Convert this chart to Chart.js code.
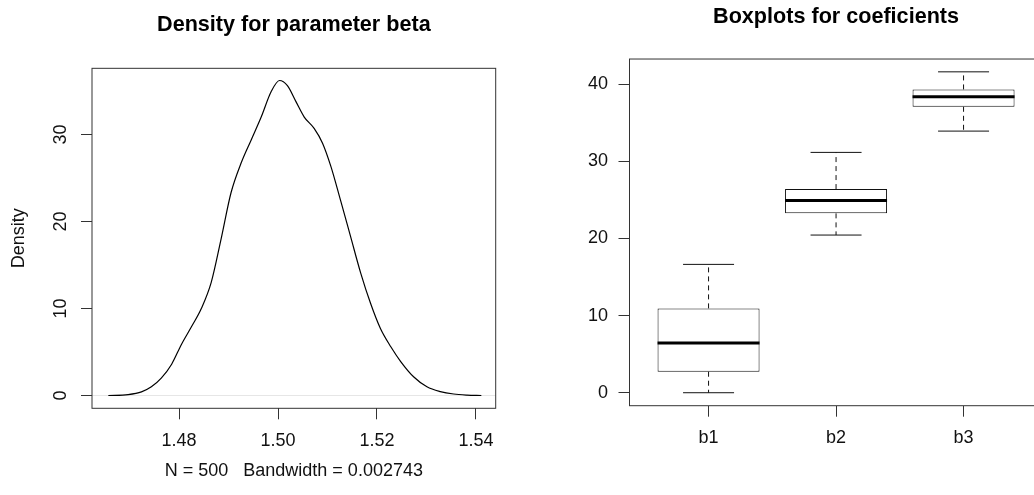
<!DOCTYPE html>
<html>
<head>
<meta charset="utf-8">
<script src="https://cdn.jsdelivr.net/npm/chart.js@4.4.1/dist/chart.umd.min.js"></script>
<style>
  html, body { margin: 0; padding: 0; background: #fff; overflow: hidden; width: 1034px; height: 495px; }
  #left { position: absolute; left: 0; top: 0; }
  #right { position: absolute; left: 517px; top: 0; }
</style>
</head>
<body>
<canvas id="left" width="517" height="495"></canvas>
<canvas id="right" width="540" height="495"></canvas>
<script>
// density of beta
const densityX = [1.4657, 1.4697, 1.4724, 1.4744, 1.4764, 1.4785, 1.4805, 1.4825, 1.4845, 1.4865,
                  1.4885, 1.4905, 1.4926, 1.4946, 1.4966, 1.4986, 1.5003, 1.5019, 1.5036, 1.5053,
                  1.5073, 1.5090, 1.5107, 1.5127, 1.5147, 1.5167, 1.5187, 1.5207, 1.5228, 1.5248,
                  1.5274, 1.5301, 1.5328, 1.5355, 1.5382, 1.5411];
const densityY = [0, 0.11, 0.42, 1.0, 2.0, 3.6, 5.9, 7.9, 10.0, 13.0,
                  18.0, 23.3, 26.8, 29.4, 32.0, 34.9, 36.2, 35.6, 33.8, 32.0,
                  30.7, 29.0, 26.3, 22.3, 18.2, 14.1, 10.6, 7.7, 5.6, 3.9,
                  2.15, 1.0, 0.45, 0.17, 0.05, 0];
const densityTicksX = [1.48, 1.50, 1.52, 1.54];
const densityTicksY = [0, 10, 20, 30];

// boxplot stats for coefficients
const categories = ['b1', 'b2', 'b3'];
const whiskerLow = [0.0, 20.43, 33.9];
const q1 = [2.72, 23.24, 37.05];
const median = [6.44, 24.92, 38.34];
const q3 = [10.93, 26.39, 39.3];
const whiskerHigh = [16.63, 31.14, 41.58];
const boxTicksY = [0, 10, 20, 30, 40];

const FONT = '"Liberation Sans", Arial, Helvetica, sans-serif';
const INK = '#111';

Chart.defaults.font.family = FONT;
Chart.defaults.color = '#111';

// R style frame around the plot region
const framePlugin = {
    id: 'frame',
    afterDraw(chart) {
        const { ctx, chartArea: a } = chart;
        ctx.save();
        ctx.strokeStyle = '#333';
        ctx.lineWidth = 1;
        ctx.strokeRect(a.left, a.top, a.right - a.left, a.bottom - a.top);
        ctx.restore();
    }
};

const zeroLinePlugin = {
    id: 'zeroLine',
    beforeDatasetsDraw(chart) {
        const { ctx, chartArea: a, scales } = chart;
        const y = scales.y.getPixelForValue(0);
        ctx.save();
        ctx.strokeStyle = '#e6e6e6';
        ctx.lineWidth = 1;
        ctx.beginPath();
        ctx.moveTo(a.left, y);
        ctx.lineTo(a.right, y);
        ctx.stroke();
        ctx.restore();
    }
};

const whiskerPlugin = {
    id: 'whiskers',
    afterDatasetsDraw(chart) {
        const { ctx, scales } = chart;
        const x = scales.x, y = scales.y;
        ctx.save();
        categories.forEach((c, i) => {
            const cx = x.getPixelForValue(i + 1);
            const capL = x.getPixelForValue(i + 1 - 0.2);
            const capR = x.getPixelForValue(i + 1 + 0.2);
            const boxL = x.getPixelForValue(i + 1 - 0.4);
            const boxR = x.getPixelForValue(i + 1 + 0.4);

            // dashed whiskers
            ctx.strokeStyle = INK;
            ctx.lineWidth = 1;
            ctx.setLineDash([5, 4]);
            ctx.beginPath();
            ctx.moveTo(cx, y.getPixelForValue(q3[i]));
            ctx.lineTo(cx, y.getPixelForValue(whiskerHigh[i]));
            ctx.moveTo(cx, y.getPixelForValue(q1[i]));
            ctx.lineTo(cx, y.getPixelForValue(whiskerLow[i]));
            ctx.stroke();

            // caps
            ctx.setLineDash([]);
            ctx.beginPath();
            ctx.moveTo(capL, y.getPixelForValue(whiskerHigh[i]));
            ctx.lineTo(capR, y.getPixelForValue(whiskerHigh[i]));
            ctx.moveTo(capL, y.getPixelForValue(whiskerLow[i]));
            ctx.lineTo(capR, y.getPixelForValue(whiskerLow[i]));
            ctx.stroke();

            // median
            ctx.strokeStyle = '#000';
            ctx.lineWidth = 3;
            ctx.beginPath();
            ctx.moveTo(boxL, y.getPixelForValue(median[i]));
            ctx.lineTo(boxR, y.getPixelForValue(median[i]));
            ctx.stroke();
        });
        ctx.restore();
    }
};

const tickGrid = { drawOnChartArea: false, tickLength: 11, color: '#333', lineWidth: 1 };

new Chart(document.getElementById('left'), {
    type: 'line',
    data: {
        datasets: [{
            data: densityX.map((x, i) => ({ x, y: densityY[i] })),
            borderColor: '#000',
            borderWidth: 1.2,
            pointRadius: 0,
            fill: false,
            cubicInterpolationMode: 'monotone'
        }]
    },
    options: {
        responsive: false,
        animation: false,
        layout: { padding: { left: 0, top: 0, right: 21.3, bottom: 0 } },
        plugins: {
            legend: { display: false },
            tooltip: { enabled: false },
            title: {
                display: true,
                text: 'Density for parameter beta',
                fullSize: false,
                color: '#000',
                font: { size: 21.6, weight: 'bold' },
                padding: { top: 12.3, bottom: 30.1 }
            }
        },
        scales: {
            x: {
                type: 'linear',
                min: 1.4624,
                max: 1.5440,
                afterBuildTicks: s => { s.ticks = densityTicksX.map(v => ({ value: v })); },
                afterFit: s => { s.height = 86.7; },
                ticks: { font: { size: 18 }, padding: 11, callback: v => v.toFixed(2) },
                grid: tickGrid,
                border: { display: false },
                title: {
                    display: true,
                    text: 'N = 500   Bandwidth = 0.002743',
                    font: { size: 18 },
                    padding: { top: 0, bottom: 13 }
                }
            },
            y: {
                min: -1.47,
                max: 37.6,
                afterBuildTicks: s => { s.ticks = densityTicksY.map(v => ({ value: v })); },
                afterFit: s => { s.width = 92; },
                ticks: { font: { size: 18 }, padding: 10, minRotation: 90, maxRotation: 90, crossAlign: 'center' },
                grid: tickGrid,
                border: { display: false },
                title: {
                    display: true,
                    text: 'Density',
                    font: { size: 18 },
                    padding: { top: 8, bottom: 0 }
                }
            }
        }
    },
    plugins: [zeroLinePlugin, framePlugin]
});

new Chart(document.getElementById('right'), {
    type: 'bar',
    data: {
        datasets: [{
            data: categories.map((c, i) => ({ x: i + 1, y: [q1[i], q3[i]] })),
            backgroundColor: '#fff',
            borderColor: INK,
            borderWidth: 1,
            borderSkipped: false,
            barPercentage: 0.8,
            categoryPercentage: 1
        }]
    },
    options: {
        responsive: false,
        animation: false,
        layout: { padding: { left: 0, top: 0, right: 14.4, bottom: 0 } },
        plugins: {
            legend: { display: false },
            tooltip: { enabled: false },
            title: {
                display: true,
                text: 'Boxplots for coeficients',
                fullSize: false,
                color: '#000',
                font: { size: 21.6, weight: 'bold' },
                padding: { top: 4.2, bottom: 28.9 }
            }
        },
        scales: {
            x: {
                type: 'linear',
                min: 0.38,
                max: 3.62,
                offset: false,
                afterBuildTicks: s => { s.ticks = categories.map((c, i) => ({ value: i + 1 })); },
                afterFit: s => { s.height = 89.3; },
                ticks: { font: { size: 18 }, padding: 11, callback: v => categories[Math.round(v) - 1] },
                grid: { ...tickGrid, offset: false },
                border: { display: false }
            },
            y: {
                min: -1.68,
                max: 43.24,
                afterBuildTicks: s => { s.ticks = boxTicksY.map(v => ({ value: v })); },
                afterFit: s => { s.width = 112.5; },
                ticks: { font: { size: 18 }, padding: 10.5 },
                grid: tickGrid,
                border: { display: false }
            }
        }
    },
    plugins: [whiskerPlugin, framePlugin]
});
</script>
</body>
</html>
